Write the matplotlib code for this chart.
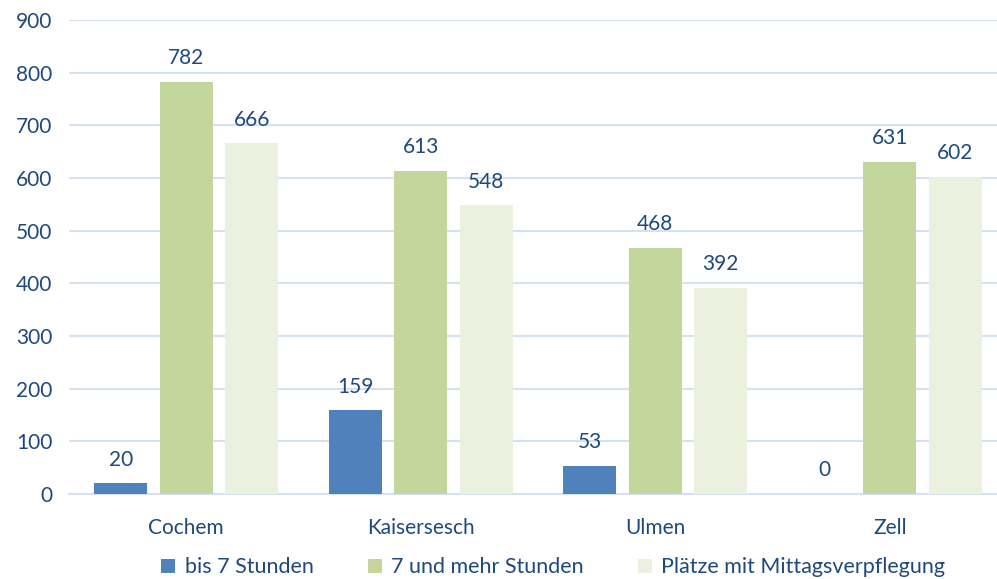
import numpy as np
import matplotlib
matplotlib.use("Agg")
import matplotlib.pyplot as plt

plt.rcParams['font.family'] = ['Lato', 'DejaVu Sans']

orte = ["Cochem", "Kaisersesch", "Ulmen", "Zell"]
bis_7 = [20, 159, 53, 0]
ab_7 = [782, 613, 468, 631]
mittag = [666, 548, 392, 602]
serien = ["bis 7 Stunden", "7 und mehr Stunden", "Plätze mit Mittagsverpflegung"]

farben = ["#4F81BD", "#C3D69B", "#EBF1DE"]
textfarbe = "#1F497D"
gridfarbe = "#D6E2F1"

fig = plt.figure(figsize=(9.97, 5.79), dpi=100)
ax = fig.add_axes([0.0692, 0.1468, 0.941, 0.8187])

x = np.arange(len(orte))
breite = 0.226
abstand = 0.279

for i, (werte, name) in enumerate(zip([bis_7, ab_7, mittag], serien)):
    pos = x + (i - 1) * abstand
    ax.bar(pos, werte, breite, color=farben[i], label=name, zorder=3)
    for xp, v in zip(pos, werte):
        ax.text(xp, v + 26, str(v), ha='center', va='bottom',
                fontsize=15, color=textfarbe)

ax.set_xlim(-0.5, len(orte) - 0.5)
ax.set_ylim(0, 900)
ax.set_yticks(range(0, 901, 100))
ax.set_xticks(x)
ax.set_xticklabels(orte)
ax.tick_params(axis='both', length=0, labelsize=15, colors=textfarbe)
ax.tick_params(axis='x', pad=17)
ax.tick_params(axis='y', pad=12)
ax.grid(axis='y', color=gridfarbe, linewidth=1.5, zorder=0)
for s in ['top', 'right', 'left']:
    ax.spines[s].set_visible(False)
ax.spines['bottom'].set_color(gridfarbe)
ax.spines['bottom'].set_linewidth(1.5)

leg = fig.legend(loc='center', bbox_to_anchor=(0.555, 0.02), ncol=3,
                 frameon=False, fontsize=15.5, handlelength=0.65, handleheight=0.65,
                 handletextpad=0.45, columnspacing=2.5, borderpad=0.1)
for t in leg.get_texts():
    t.set_color(textfarbe)

fig.savefig("out.png", dpi=100)
